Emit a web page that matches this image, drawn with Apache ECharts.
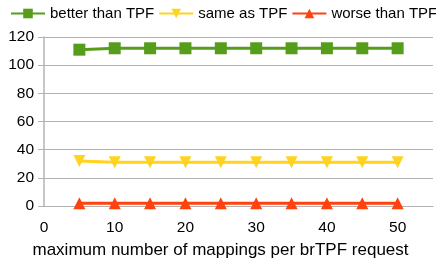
<!DOCTYPE html>
<html>
<head>
<meta charset="utf-8">
<script src="https://cdn.jsdelivr.net/npm/echarts@6/dist/echarts.min.js"></script>
<style>
  html, body { margin: 0; padding: 0; background: #fff; }
  #chart { width: 436px; height: 266px; }
</style>
</head>
<body>
<div id="chart"></div>
<script>
// mappings per request on the x axis
const mappings = [5, 10, 15, 20, 25, 30, 35, 40, 45, 50];
const betterThanTPF = [111, 112, 112, 112, 112, 112, 112, 112, 112, 112];
const sameAsTPF = [32, 31, 31, 31, 31, 31, 31, 31, 31, 31];
const worseThanTPF = [2, 2, 2, 2, 2, 2, 2, 2, 2, 2];

const font = 'Liberation Sans, Arial, sans-serif';

function pairs(vals) {
    return mappings.map((m, i) => [m, vals[i]]);
}

function lineSeries(name, vals, color, symbol, rotate) {
    return {
        name: name, type: 'line', data: pairs(vals),
        symbol: symbol, symbolSize: 12, symbolRotate: rotate,
        lineStyle: { color: color, width: 3 },
        itemStyle: { color: color },
        emphasis: { disabled: true }
    };
}

const chart = echarts.init(document.getElementById('chart'));
chart.setOption({
    animation: false,
    textStyle: { fontFamily: font },
    legend: {
        top: 6, left: 10, width: 430, padding: 0,
        itemWidth: 34, itemHeight: 12, itemGap: 4,
        textStyle: { fontSize: 15, color: '#000', fontFamily: font },
        data: ['better than TPF', 'same as TPF', 'worse than TPF']
    },
    grid: { left: 44, right: 1, top: 37, bottom: 60 },
    xAxis: {
        type: 'value', min: 0, max: 55, interval: 10,
        name: 'maximum number of mappings per brTPF request',
        nameLocation: 'middle', nameGap: 36,
        // name sits left of the plot centre in the original
        nameTextStyle: { fontSize: 17, color: '#000', fontFamily: font, padding: [0, 36, 0, 0] },
        axisLine: { show: true, lineStyle: { color: '#b3b3b3' } },
        axisTick: { show: false },
        splitLine: { show: false },
        axisLabel: {
            fontSize: 15.5, color: '#000', fontFamily: font, margin: 14,
            formatter: v => (v % 10 === 0 ? String(v) : '')
        }
    },
    yAxis: {
        type: 'value', min: 0, max: 120, interval: 20,
        axisLine: { show: true, lineStyle: { color: '#b3b3b3', width: 1.5 } },
        axisTick: { show: true, length: 6, lineStyle: { color: '#b3b3b3' } },
        splitLine: { show: true, lineStyle: { color: '#b3b3b3' } },
        axisLabel: { fontSize: 15.5, color: '#000', fontFamily: font, margin: 10 }
    },
    series: [
        lineSeries('better than TPF', betterThanTPF, '#579d1c', 'rect', 0),
        lineSeries('same as TPF', sameAsTPF, '#ffd320', 'triangle', 180),
        lineSeries('worse than TPF', worseThanTPF, '#ff420e', 'triangle', 0)
    ]
});
</script>
</body>
</html>
